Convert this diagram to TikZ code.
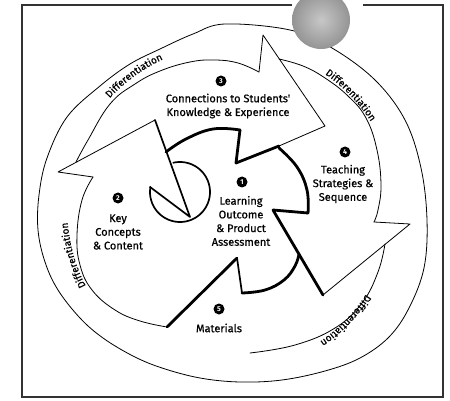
\documentclass[tikz,border=0pt]{standalone}
\usepackage{fontspec}
\setmainfont{Fira Sans}
\newfontfamily\lblfont{Fira Sans}[FakeBold=0.6]
\usetikzlibrary{decorations.text}
\newcommand{\dfont}{\lblfont\fontsize{10}{10}\selectfont}
\begin{document}
\begin{tikzpicture}[x=1pt,y=-1pt,
  thinline/.style={line width=0.8pt, line cap=round, line join=round},
  medline/.style={line width=1.7pt, line cap=round, line join=round},
  thickline/.style={line width=2.8pt, line cap=round, line join=round},
  badge/.style={circle, fill=black, text=white, inner sep=0pt, minimum size=11pt, font=\fontsize{7}{7}\selectfont\bfseries},
  lbl/.style={align=center, font=\lblfont\fontsize{11}{13.7}\selectfont, inner sep=0pt},
  difftext/.style={decorate, decoration={text along path, text align=center, text={|\dfont|Differentiation}}},
]
\useasboundingbox (0,0) rectangle (450,401);
\fill[white] (0,0) rectangle (450,401);
% frame
\draw[line width=1.1pt, black!80] (292,5) -- (22,5) -- (22,397) -- (443,397) -- (443,5) -- (363,5);
% outer ring
\draw[thinline] plot[smooth cycle, tension=0.6] coordinates {(225,24) (290,30) (332,48) (375,80) (405,120) (421,168) (427,220) (424,268) (409,308) (389,337) (360,358) (325,371) (282,380) (240,382) (200,378) (162,368) (133,356) (103,338) (80,318) (58,290) (45,262) (38,230) (39,195) (47,158) (67,117) (100,86) (130,64) (160,49) (193,34)};
% gray ball
\shade[inner color=black!22, outer color=black!42] (321,20) circle[radius=29];
% Arrow 3 (top)
\draw[thinline] plot[smooth, tension=0.7] coordinates {(76,162) (88,140) (110,104) (135,84) (160,71) (190,62) (215,60) (238,63) (259,72)};
\draw[thinline] (259,72) -- (263,35) -- (325,126) -- (279,146);
\draw[thickline] (279,146) -- (236,163) -- (240,130);
\draw[thickline] plot[smooth, tension=0.7] coordinates {(240,130) (213,129) (186,139) (166,152)};
% Arrow 2 (left)
\draw[thinline] (93,177) -- (58,172) -- (155,120);
\draw[medline] (155,120) -- (190,217) -- (150,187);
\draw[medline] plot[domain=-103:189.5, samples=80, variable=\t] ({180+30*cos(\t)},{192+30*sin(\t)});
\draw[thinline] plot[smooth, tension=0.7] coordinates {(93,177) (82,200) (77,235) (80,265) (92,290) (115,310) (140,321) (167,327)};
% Arrow 5 (bottom)
\draw[thickline] (167,327) -- (237,258);
\draw[medline] (237,258) -- (242,293);
\draw[thickline] plot[smooth, tension=0.7] coordinates {(242,293) (265,290) (284,280) (295,266) (299,254)};
\draw[thinline] plot[smooth, tension=0.7] coordinates {(385,244) (378,272) (362,303) (335,328) (295,345) (250,353)};
% Arrow 4 (right)
\draw[thinline] plot[smooth, tension=0.7] coordinates {(279,59) (303,66) (325,78) (348,96) (366,118) (377,150) (381,185) (378,210) (374,222)};
\draw[thinline] (374,222) -- (410,224) -- (323,295);
\draw[thickline] (323,295) -- (273,210) -- (308,213);
\draw[thickline] plot[smooth, tension=0.7] coordinates {(308,213) (307,190) (297,167) (279,148)};
% Differentiation labels
\path[difftext] (232,210) ++(211.9:165.6) arc[start angle=211.9, end angle=255.9, radius=165.6];
\path[difftext] (232,210) ++(294:164.6) arc[start angle=294, end angle=338, radius=164.6];
\path[difftext] (232,210) ++(142.1:164.7) arc[start angle=142.1, end angle=186.1, radius=164.7];
\path[difftext] (232,210) ++(22.2:158.2) arc[start angle=22.2, end angle=66.2, radius=158.2];
% badges and labels
\node[badge] (b3) at (221,81) {3};
\node[lbl] (t3) at (228,106) {Connections to Students'\\Knowledge \& Experience};
\node[badge] (b4) at (345,152) {4};
\node[lbl] (t4) at (343,184) {Teaching\\Strategies \&\\Sequence};
\node[badge] (b2) at (118,198) {2};
\node[lbl] (t2) at (118,232) {Key\\Concepts\\\& Content};
\node[badge] (b1) at (242,182) {1};
\node[lbl] (t1) at (241,221) {Learning\\Outcome\\\& Product\\Assessment};
\node[badge] (b5) at (219,309) {5};
\node[lbl] (t5) at (219,328) {Materials};
\end{tikzpicture}
\end{document}
